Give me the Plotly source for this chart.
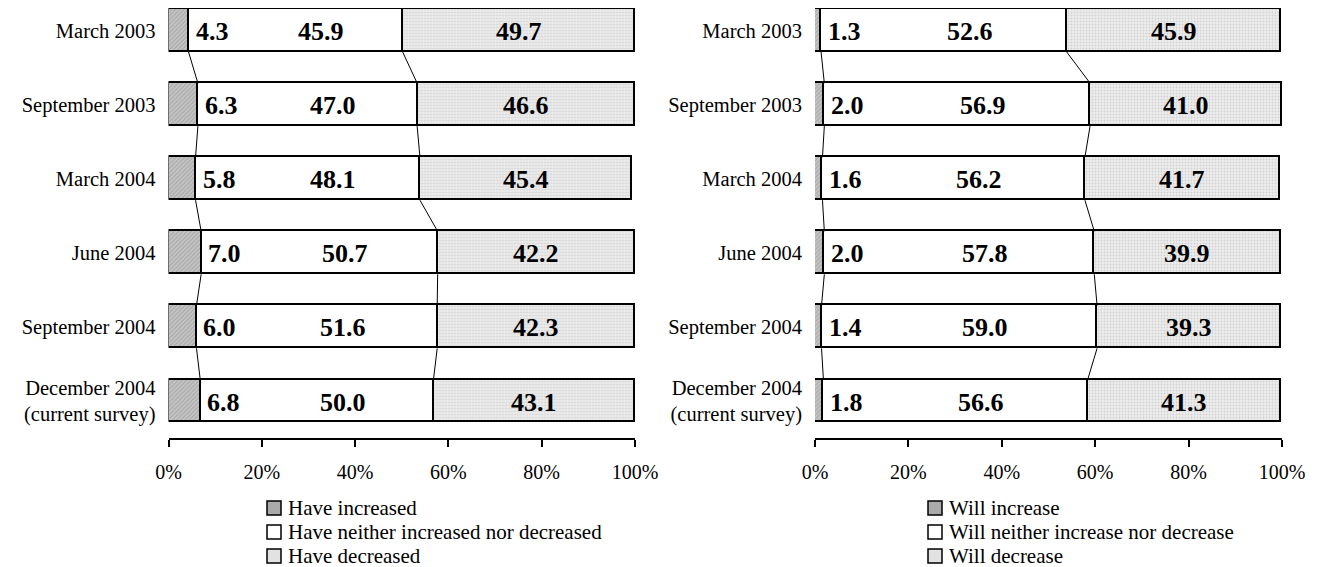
import plotly.graph_objects as go

periods = ["March 2003", "September 2003", "March 2004", "June 2004",
           "September 2004", "December 2004<br>(current survey)"]

# Left panel (past)
left_increased = [4.3, 6.3, 5.8, 7.0, 6.0, 6.8]
left_neither = [45.9, 47.0, 48.1, 50.7, 51.6, 50.0]
left_decreased = [49.7, 46.6, 45.4, 42.2, 42.3, 43.1]
left_names = ["Have increased", "Have neither increased nor decreased", "Have decreased"]

# Right panel (outlook)
right_increase = [1.3, 2.0, 1.6, 2.0, 1.4, 1.8]
right_neither = [52.6, 56.9, 56.2, 57.8, 59.0, 56.6]
right_decrease = [45.9, 41.0, 41.7, 39.9, 39.3, 41.3]
right_names = ["Will increase", "Will neither increase nor decrease", "Will decrease"]

x_ticks = [0, 20, 40, 60, 80, 100]
x_ticktext = ["%d%%" % v for v in x_ticks]

FONT = "Liberation Serif, Times New Roman, serif"
OFF = 8  # page body margin
W, H = 1317 - OFF, 567 - OFF
BAR_W = 0.58
ypos = list(range(len(periods)))

styles = [
    dict(color="#b4b4b4", pattern=dict(shape="/", fgcolor="#8a8a8a", bgcolor="#c4c4c4", size=3, solidity=0.35)),
    dict(color="white"),
    dict(color="#e6e6e6", pattern=dict(shape=".", fgcolor="#b8b8b8", bgcolor="#ececec", size=3, solidity=0.3)),
]
legend_fill = ["#aaaaaa", "white", "#e2e2e2"]

top_px, bot_px = 0, 438 - OFF
row0_px, step_px = 30.5 - OFF, 74.1
y_top = 0 - (row0_px - top_px) / step_px
y_bot = 5 + (bot_px - (row0_px + 5 * step_px)) / step_px

fig = go.Figure()
annotations = []
shapes = []


def add_panel(series, names, xa, ya):
    for vals, name, st in zip(series, names, styles):
        fig.add_trace(go.Bar(
            x=vals, y=ypos, orientation="h", name=name, width=BAR_W,
            marker=dict(line=dict(color="black", width=1.6), **st),
            xaxis=xa, yaxis=ya, showlegend=False, hoverinfo="skip",
        ))
    a, b, c = series
    cum1 = a
    cum2 = [p + q for p, q in zip(a, b)]
    # series connector lines
    for cum in (cum1, cum2):
        lx, ly = [], []
        for i in range(len(cum) - 1):
            lx += [cum[i], cum[i + 1], None]
            ly += [i + BAR_W / 2, i + 1 - BAR_W / 2, None]
        fig.add_trace(go.Scatter(x=lx, y=ly, mode="lines", line=dict(color="black", width=1),
                                 xaxis=xa, yaxis=ya, showlegend=False, hoverinfo="skip"))
    lab_font = dict(family=FONT, size=26, color="black")
    for i in range(len(a)):
        annotations.append(dict(x=cum1[i], y=i, xref=xa, yref=ya, text="<b>%.1f</b>" % a[i],
                                showarrow=False, xanchor="left", xshift=5, yshift=-1, font=lab_font))
        annotations.append(dict(x=cum1[i] + b[i] / 2 + 5.5, y=i, xref=xa, yref=ya, text="<b>%.1f</b>" % b[i],
                                showarrow=False, xanchor="center", yshift=-1, font=lab_font))
        annotations.append(dict(x=cum2[i] + c[i] / 2, y=i, xref=xa, yref=ya, text="<b>%.1f</b>" % c[i],
                                showarrow=False, xanchor="center", yshift=-1, font=lab_font))


def py(px):
    return 1 - (px - top_px) / (bot_px - top_px)


def add_legend(names, x_icon_px, y_rows_px):
    for name, fill, yc in zip(names, legend_fill, y_rows_px):
        shapes.append(dict(type="rect", xref="paper", yref="paper",
                           x0=x_icon_px / W, x1=(x_icon_px + 14) / W,
                           y0=py(yc + 7), y1=py(yc - 7),
                           fillcolor=fill, line=dict(color="black", width=1.5)))
        annotations.append(dict(x=(x_icon_px + 19) / W, y=py(yc),
                                xref="paper", yref="paper", text=name, showarrow=False,
                                xanchor="left", yanchor="middle",
                                font=dict(family=FONT, size=21, color="black")))


add_panel([left_increased, left_neither, left_decreased], left_names, "x", "y")
add_panel([right_increase, right_neither, right_decrease], right_names, "x2", "y2")
legend_rows = [508 - OFF, 532 - OFF, 556 - OFF]
add_legend(left_names, 267 - OFF, legend_rows)
add_legend(right_names, 928 - OFF, legend_rows)

xaxis_common = dict(range=[0, 100], tickvals=x_ticks, ticktext=x_ticktext, showgrid=False, zeroline=False,
                    showline=True, linecolor="black", linewidth=1.5, ticks="outside", ticklen=7,
                    tickwidth=1.5, tickcolor="black", ticklabelstandoff=8,
                    tickfont=dict(family=FONT, size=20, color="black"), automargin=False, fixedrange=True)
yaxis_common = dict(range=[y_bot, y_top], tickvals=ypos, ticktext=periods, showgrid=False, zeroline=False,
                    showline=False, ticks="", ticklabelstandoff=12,
                    tickfont=dict(family=FONT, size=20.5, color="black"), automargin=False, fixedrange=True)

fig.update_layout(
    width=W, height=H,
    margin=dict(l=0, r=0, t=top_px, b=H - bot_px, autoexpand=False),
    paper_bgcolor="white", plot_bgcolor="white",
    barmode="stack", bargap=0,
    xaxis=dict(domain=[(168.5 - OFF) / W, (635 - OFF) / W], anchor="y", **xaxis_common),
    yaxis=dict(domain=[0, 1], anchor="x", **yaxis_common),
    xaxis2=dict(domain=[(815 - OFF) / W, (1282 - OFF) / W], anchor="y2", **xaxis_common),
    yaxis2=dict(domain=[0, 1], anchor="x2", **yaxis_common),
    annotations=annotations,
    shapes=shapes,
    showlegend=False,
)

fig.write_html("out.html")
